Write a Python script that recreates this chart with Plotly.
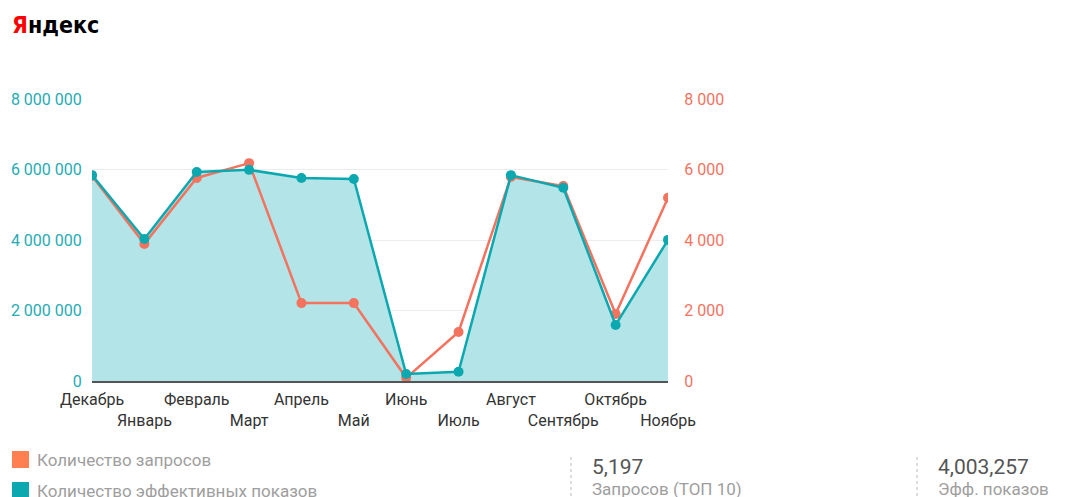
import plotly.graph_objects as go

months = ["Декабрь", "Январь", "Февраль", "Март", "Апрель", "Май",
          "Июнь", "Июль", "Август", "Сентябрь", "Октябрь", "Ноябрь"]
impressions = [5840000, 4030000, 5930000, 5990000, 5760000, 5730000,
               200000, 260000, 5840000, 5480000, 1590000, 4003257]
queries = [5820, 3890, 5760, 6180, 2210, 2210, 90, 1390, 5790, 5530, 1900, 5197]
left_ticks = [0, 2000000, 4000000, 6000000, 8000000]
left_ticktext = ["0", "2 000 000", "4 000 000", "6 000 000", "8 000 000"]
right_ticks = [0, 2000, 4000, 6000, 8000]
right_ticktext = ["0", "2 000", "4 000", "6 000", "8 000"]
legend_names = ["Количество запросов", "Количество эффективных показов"]
stat_values = ["5,197", "4,003,257"]
stat_labels = ["Запросов (ТОП 10)", "Эфф. показов"]

TEAL = "#0BA8B0"
TEAL_FILL = "#B3E4E7"
ORANGE = "#F3735F"
FONT = "Roboto"

x = list(range(len(months)))
ticktext = [m if i % 2 == 0 else "<br>" + m for i, m in enumerate(months)]

fig = go.Figure()
fig.add_trace(go.Scatter(x=x, y=impressions, mode="lines", fill="tozeroy",
                         fillcolor=TEAL_FILL, line=dict(color=TEAL, width=0),
                         yaxis="y", showlegend=False, hoverinfo="skip"))
fig.add_trace(go.Scatter(x=x, y=queries, mode="lines+markers", name=legend_names[0],
                         line=dict(color=ORANGE, width=2.5),
                         marker=dict(color=ORANGE, size=10),
                         yaxis="y2", showlegend=False))
fig.add_trace(go.Scatter(x=x, y=impressions, mode="lines+markers", name=legend_names[1],
                         line=dict(color=TEAL, width=2.5),
                         marker=dict(color=TEAL, size=10),
                         yaxis="y3", showlegend=False))

# page body has an 8px margin: compensate
fig.update_layout(
    width=1057, height=489,
    margin=dict(l=84, r=397, t=91, b=116, autoexpand=False),
    paper_bgcolor="white", plot_bgcolor="white",
    font=dict(family=FONT, size=16, color="#333"),
    xaxis=dict(tickmode="array", tickvals=x, ticktext=ticktext, tickangle=0,
               range=[0, len(months) - 1], showgrid=False, zeroline=False,
               showline=True, linecolor="#555", linewidth=2,
               tickfont=dict(family=FONT, size=16, color="#333"),
               ticks="outside", ticklen=3, tickcolor="rgba(0,0,0,0)"),
    yaxis=dict(range=[0, 8000000], tickvals=left_ticks, ticktext=left_ticktext,
               showgrid=True, gridcolor="#ececec", zeroline=False,
               tickfont=dict(family=FONT, size=16, color="#26ABB5"),
               ticks="outside", ticklen=6, tickcolor="rgba(0,0,0,0)"),
    yaxis2=dict(range=[0, 8000], tickvals=right_ticks, ticktext=right_ticktext,
                overlaying="y", side="right", showgrid=False, zeroline=False,
                tickfont=dict(family=FONT, size=16, color="#F3735F"),
                ticks="outside", ticklen=12, tickcolor="rgba(0,0,0,0)"),
    yaxis3=dict(range=[0, 8000000], overlaying="y", visible=False),
)

def px_x(p):
    return (p - 92) / 576.0

def px_y(p):
    return (381 - p) / 282.0

# Yandex logo
fig.add_annotation(xref="paper", yref="paper", x=px_x(10), y=px_y(25),
                   xanchor="left", yanchor="middle", showarrow=False,
                   text="<b><span style='color:#FF0000'>Я</span><span style='color:#000'>ндекс</span></b>",
                   font=dict(family="DejaVu Sans Condensed", size=23))

# Custom legend
legend_colors = ["#FF7F50", "#0BA8B0"]
legend_rows = [460, 491]
for name, col, yc in zip(legend_names, legend_colors, legend_rows):
    fig.add_shape(type="rect", xref="paper", yref="paper",
                  x0=px_x(12), x1=px_x(29), y0=px_y(yc - 9), y1=px_y(yc + 8),
                  fillcolor=col, line=dict(width=0))
    fig.add_annotation(xref="paper", yref="paper", x=px_x(35), y=px_y(yc),
                       xanchor="left", yanchor="middle", showarrow=False,
                       text=name, font=dict(family=FONT, size=17, color="#9E9E9E"))

# Stats
stat_x = [571, 917]
for sx, val, lab in zip(stat_x, stat_values, stat_labels):
    fig.add_shape(type="line", xref="paper", yref="paper",
                  x0=px_x(sx), x1=px_x(sx), y0=px_y(457), y1=px_y(500),
                  line=dict(color="#BBBBBB", width=1, dash="dot"))
    fig.add_annotation(xref="paper", yref="paper", x=px_x(sx + 19), y=px_y(467),
                       xanchor="left", yanchor="middle", showarrow=False,
                       text=val, font=dict(family=FONT, size=21, color="#555"))
    fig.add_annotation(xref="paper", yref="paper", x=px_x(sx + 19), y=px_y(489),
                       xanchor="left", yanchor="middle", showarrow=False,
                       text=lab, font=dict(family=FONT, size=17, color="#9E9E9E"))

fig.write_html("out.html")
